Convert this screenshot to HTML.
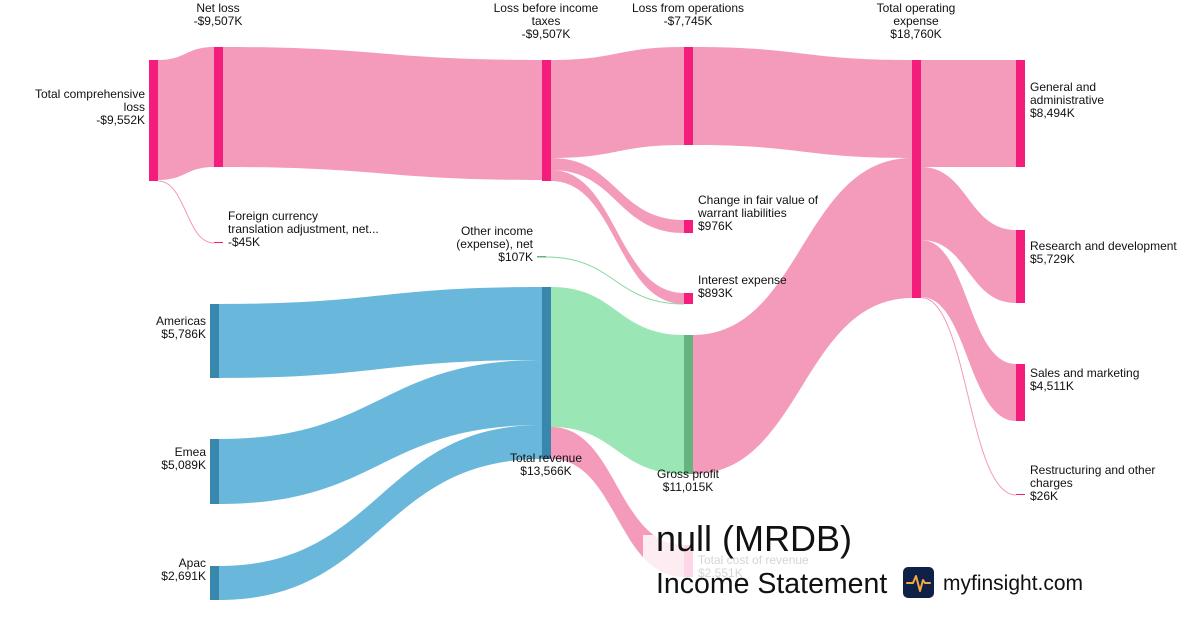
<!DOCTYPE html>
<html><head><meta charset="utf-8"><style>
body{margin:0;background:#fff;width:1200px;height:630px;overflow:hidden}
svg text{font-family:"Liberation Sans",sans-serif;font-size:12px;fill:#111}
</style></head><body>
<svg width="1200" height="630" viewBox="0 0 1200 630" xmlns="http://www.w3.org/2000/svg">
<g fill-opacity="1">
<path fill="#f49aba" d="M158,60 C186,60 186,47 214,47 L214,167 C186,167 186,180 158,180Z"/>
<path fill="#f49aba" d="M223,47 C382,47 382,60 542,60 L542,180 C382,180 382,167 223,167Z"/>
<path fill="#f49aba" d="M551,60 C617,60 617,47 684,47 L684,145 C617,145 617,158 551,158Z"/>
<path fill="#f49aba" d="M551,158 C617,158 617,220 684,220 L684,233 C617,233 617,170 551,170Z"/>
<path fill="#f49aba" d="M551,170 C617,170 617,293 684,293 L684,304 C617,304 617,181 551,181Z"/>
<path fill="none" stroke="#7fd89a" stroke-width="1" d="M546,257 C615,257 615,304 684,304"/>
<path fill="none" stroke="#f49aba" stroke-width="1" d="M158,181 C186,181 186,243 214,243"/>
<path fill="#f49aba" d="M693,47 C802,47 802,60 912,60 L912,158 C802,158 802,145 693,145Z"/>
<path fill="#f49aba" d="M693,335 C802,335 802,158 912,158 L912,298 C802,298 802,474 693,474Z"/>
<path fill="#f49aba" d="M921,60 C968,60 968,60 1016,60 L1016,167 C968,167 968,167 921,167Z"/>
<path fill="#f49aba" d="M921,167 C968,167 968,230 1016,230 L1016,303 C968,303 968,240 921,240Z"/>
<path fill="#f49aba" d="M921,240 C968,240 968,364 1016,364 L1016,421 C968,421 968,297 921,297Z"/>
<path fill="none" stroke="#f49aba" stroke-width="1" d="M921,297.5 C968,297.5 968,495 1016,495"/>
<path fill="#6ab7dc" d="M219,304 C380,304 380,287 542,287 L542,360 C380,360 380,378 219,378Z"/>
<path fill="#6ab7dc" d="M219,439 C380,439 380,360 542,360 L542,425 C380,425 380,504 219,504Z"/>
<path fill="#6ab7dc" d="M219,566 C380,566 380,425 542,425 L542,459 C380,459 380,600 219,600Z"/>
<path fill="#9ae6b4" d="M551,287 C617,287 617,335 684,335 L684,474 C617,474 617,427 551,427Z"/>
<path fill="#f49aba" d="M551,427 C617,427 617,545 684,545 L684,577 C617,577 617,459 551,459Z"/>
<rect x="149" y="60" width="9" height="121" fill="#f51d7c"/>
<rect x="214" y="47" width="9" height="120" fill="#f51d7c"/>
<rect x="542" y="60" width="9" height="121" fill="#f51d7c"/>
<rect x="684" y="47" width="9" height="98" fill="#f51d7c"/>
<rect x="684" y="220" width="9" height="13" fill="#f51d7c"/>
<rect x="684" y="293" width="9" height="11" fill="#f51d7c"/>
<rect x="912" y="60" width="9" height="238" fill="#f51d7c"/>
<rect x="1016" y="60" width="9" height="107" fill="#f51d7c"/>
<rect x="1016" y="230" width="9" height="73" fill="#f51d7c"/>
<rect x="1016" y="364" width="9" height="57" fill="#f51d7c"/>
<rect x="1016" y="494" width="9" height="1" fill="#f51d7c"/>
<rect x="214" y="242" width="9" height="1" fill="#f51d7c"/>
<rect x="537" y="256" width="9" height="1.5" fill="#68b27f"/>
<rect x="210" y="304" width="9" height="74" fill="#3a87ad"/>
<rect x="210" y="439" width="9" height="65" fill="#3a87ad"/>
<rect x="210" y="566" width="9" height="34" fill="#3a87ad"/>
<rect x="542" y="287" width="9" height="172" fill="#3a87ad"/>
<rect x="684" y="335" width="9" height="139" fill="#68b27f"/>
<rect x="684" y="545" width="9" height="32" fill="#f51d7c"/>
</g>
<g text-anchor="end">
<text x="145" y="98">Total comprehensive</text><text x="145" y="111">loss</text><text x="145" y="124">-$9,552K</text>
<text x="206" y="325">Americas</text><text x="206" y="338">$5,786K</text>
<text x="206" y="456">Emea</text><text x="206" y="469">$5,089K</text>
<text x="206" y="567">Apac</text><text x="206" y="580">$2,691K</text>
<text x="533" y="235">Other income</text><text x="533" y="248">(expense), net</text><text x="533" y="261">$107K</text>
</g>
<g text-anchor="middle">
<text x="218" y="12">Net loss</text><text x="218" y="25">-$9,507K</text>
<text x="546" y="12">Loss before income</text><text x="546" y="25">taxes</text><text x="546" y="38">-$9,507K</text>
<text x="688" y="12">Loss from operations</text><text x="688" y="25">-$7,745K</text>
<text x="916" y="12">Total operating</text><text x="916" y="25">expense</text><text x="916" y="38">$18,760K</text>
<text x="546" y="462">Total revenue</text><text x="546" y="475">$13,566K</text>
<text x="688" y="478">Gross profit</text><text x="688" y="491">$11,015K</text>
</g>
<g>
<text x="228" y="220">Foreign currency</text><text x="228" y="233">translation adjustment, net...</text><text x="228" y="246">-$45K</text>
<text x="698" y="204">Change in fair value of</text><text x="698" y="217">warrant liabilities</text><text x="698" y="230">$976K</text>
<text x="698" y="284">Interest expense</text><text x="698" y="297">$893K</text>
<text x="1030" y="91">General and</text><text x="1030" y="104">administrative</text><text x="1030" y="117">$8,494K</text>
<text x="1030" y="250">Research and development</text><text x="1030" y="263">$5,729K</text>
<text x="1030" y="377">Sales and marketing</text><text x="1030" y="390">$4,511K</text>
<text x="1030" y="474">Restructuring and other</text><text x="1030" y="487">charges</text><text x="1030" y="500">$26K</text>
<text x="698" y="564">Total cost of revenue</text><text x="698" y="577">$2,551K</text>
</g>
<rect x="643" y="535" width="300" height="70" fill="#fff" fill-opacity="0.82"/>
<text x="656" y="551" style="font-size:36px">null (MRDB)</text>
<text x="656" y="593" style="font-size:28.5px">Income Statement</text>
<rect x="903" y="567" width="31" height="31" rx="5" fill="#0f2147"/>
<path d="M907,583 L913,583 L916,576 L920,591 L923,580 L925,583 L930,583" fill="none" stroke="#f5a742" stroke-width="2" stroke-linejoin="round" stroke-linecap="round"/>
<text x="943" y="590" style="font-size:21px">myfinsight.com</text>
</svg>
</body></html>
